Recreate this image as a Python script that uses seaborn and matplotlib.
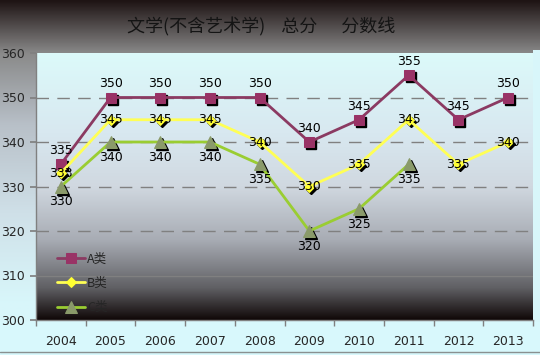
import numpy as np
import pandas as pd
import matplotlib
matplotlib.use("Agg")
import matplotlib.pyplot as plt
import seaborn as sns
from matplotlib.colors import LinearSegmentedColormap

years = ["2004", "2005", "2006", "2007", "2008", "2009", "2010", "2011", "2012", "2013"]
a_vals = [335, 350, 350, 350, 350, 340, 345, 355, 345, 350]
b_vals = [333, 345, 345, 345, 340, 330, 335, 345, 335, 340]
c_vals = [330, 340, 340, 340, 335, 320, 325, 335, np.nan, np.nan]
series_names = ["A类", "B类", "C类"]
title = "文学(不含艺术学)    总分      分数线"
y_ticks = [300, 310, 320, 330, 340, 350, 360]

sns.set_theme(style="white")
plt.rcParams["font.family"] = ["Noto Sans CJK SC", "DejaVu Sans"]

fig = plt.figure(figsize=(5.4, 3.55), dpi=100)

# figure background gradient (row 0 at top)
bg = fig.add_axes([0, 0, 1, 1], zorder=-10)
bg_cmap = LinearSegmentedColormap.from_list(
    "bg", [(0.0, "#1e1414"), (0.15, "#8a8a8a"), (0.35, "#b8c0c8"),
           (0.6, "#cfe0e8"), (0.85, "#d8f6fa"), (1.0, "#d8f8fc")])
bg.imshow(np.linspace(0, 1, 256).reshape(-1, 1), aspect="auto", cmap=bg_cmap,
          extent=[0, 1, 0, 1], origin="upper")
bg.set_xlim(0, 1); bg.set_ylim(0, 1)
bg.axis("off")
# right and bottom cyan strips
bg.add_patch(plt.Rectangle((533/540, 0), 1, 1 - 50/355, color="#d8f6fa", lw=0))
bg.add_patch(plt.Rectangle((0, 0), 1, 1 - 322/355, color="#d8f8fc", lw=0))
bg.plot([0, 1], [3/355, 3/355], color="#8a9090", lw=1)

ax = fig.add_axes([36/540, 1 - 320/355, (533 - 36)/540, (320 - 53)/355])

plot_cmap = LinearSegmentedColormap.from_list(
    "pl", [(0.0, "#dcfafa"), (0.3, "#d8e8f0"), (0.5, "#d0d8e0"),
           (0.7, "#a8acb4"), (0.88, "#606064"), (1.0, "#100808")])
ax.imshow(np.linspace(0, 1, 256).reshape(-1, 1), aspect="auto", cmap=plot_cmap,
          extent=[-0.5, 9.5, 300, 360], origin="upper", zorder=0)
ax.set_xlim(-0.5, 9.5)
ax.set_ylim(300, 360)

for yv in [320, 330, 340, 350]:
    ax.axhline(yv, color="#808080", lw=1, dashes=(9, 6), zorder=1)
ax.axhline(310, color="#808080", lw=1, zorder=1)

df = pd.DataFrame({"year": years, "A": a_vals, "B": b_vals, "C": c_vals})
x = np.arange(len(years))
df["x"] = x

specs = [
    ("A", "#8b3a62", "s", "#993366", 7, series_names[0]),
    ("B", "#ffff55", "D", "#ffff33", 5, series_names[1]),
    ("C", "#9acd32", "^", "#8a9a6a", 8, series_names[2]),
]
for col, lc, mk, mc, ms, name in specs:
    d = df.dropna(subset=[col])
    # shadow markers
    ax.plot(d["x"] + 0.04, d[col] - 0.5, ls="none", marker=mk, color="black",
            markersize=ms, zorder=3)
    sns.lineplot(data=d, x="x", y=col, ax=ax, color=lc, lw=2, marker=mk,
                 markersize=ms, markerfacecolor=mc, markeredgecolor=mc,
                 label=name, zorder=4)

fs = 9
for i, v in enumerate(a_vals):
    ax.text(i, v + 1.6, f"{v}", ha="center", va="bottom", fontsize=fs,
            family="DejaVu Sans", color="black", zorder=6)
for i, v in enumerate(b_vals):
    ax.text(i, v, f"{v}", ha="center", va="center", fontsize=fs,
            family="DejaVu Sans", color="black", zorder=6)
for i, v in enumerate(c_vals):
    if not np.isnan(v):
        ax.text(i, v - 2.0, f"{int(v)}", ha="center", va="top", fontsize=fs,
                family="DejaVu Sans", color="black", zorder=6)

ax.set_xticks(x)
ax.set_xticklabels(years, fontsize=fs, family="DejaVu Sans")
ax.set_xticks(np.arange(-0.5, 10, 1), minor=True)
ax.tick_params(axis="x", which="major", length=0, pad=11)
ax.tick_params(axis="x", which="minor", length=4, color="#808080", direction="out", bottom=True)
ax.set_yticks(y_ticks)
ax.set_yticklabels([str(t) for t in y_ticks], fontsize=fs, family="DejaVu Sans")
ax.tick_params(axis="y", length=4, color="#808080", direction="out", left=True, pad=4)
ax.set_xlabel("")
ax.set_ylabel("")
for s in ["top", "right"]:
    ax.spines[s].set_visible(False)
for s in ["left", "bottom"]:
    ax.spines[s].set_color("#808080")
    ax.spines[s].set_linewidth(1)

leg = ax.legend(loc="lower left", bbox_to_anchor=(0.02, -0.02), frameon=False,
                fontsize=9, labelspacing=0.9, handlelength=2.2, handletextpad=0.2)

fig.text(0.484, 1 - 27/355, title, ha="center", va="center", fontsize=13,
         color="#141414")

fig.savefig("out.png", dpi=100)
